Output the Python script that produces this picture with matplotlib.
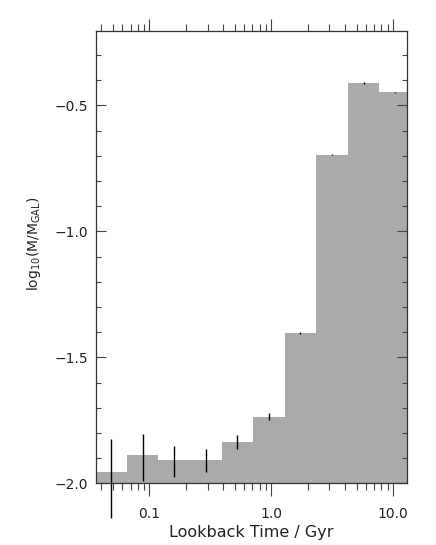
import numpy as np
import matplotlib
matplotlib.use("Agg")
import matplotlib.pyplot as plt
from matplotlib.ticker import FixedLocator, FuncFormatter, LogLocator, NullFormatter, MultipleLocator

# Lookback-time bin edges (Gyr)
bin_edges = [0.0359, 0.0652, 0.1183, 0.2148, 0.390, 0.708, 1.285, 2.333, 4.236, 7.691, 13.96]
# log10(M/M_GAL) per bin
log_mass = [-1.955, -1.886, -1.909, -1.907, -1.835, -1.735, -1.404, -0.695, -0.410, -0.448]
err_low = [0.182, 0.103, 0.066, 0.048, 0.028, 0.013, 0.005, 0.003, 0.003, 0.003]
err_high = [0.129, 0.082, 0.057, 0.044, 0.027, 0.013, 0.005, 0.003, 0.003, 0.003]

x_ticks = [0.1, 1.0, 10.0]
x_tick_labels = ["0.1", "1.0", "10.0"]
y_ticks = [-2.0, -1.5, -1.0, -0.5]

plt.rcParams['font.family'] = ['DejaVu Sans']
fig = plt.figure(figsize=(4.36, 5.45), dpi=100)
ax = fig.add_axes([0.2195, 0.1132, 0.7133, 0.8305])

edges = np.array(bin_edges)
vals = np.array(log_mass)
base = -2.5
lefts = edges[:-1]
widths = np.diff(edges)
ax.bar(lefts, vals - base, width=widths, bottom=base, align='edge',
       color='#aaaaaa', edgecolor='none', linewidth=0)

centres = np.sqrt(edges[:-1] * edges[1:])
eb = ax.errorbar(centres, vals, yerr=[err_low, err_high], fmt='none',
                 ecolor='black', elinewidth=1.0, capsize=0)
for c in eb[2]:
    c.set_clip_on(False)

ax.set_xscale('log')
ax.set_xlim(0.0362, 12.9)
ax.set_ylim(-2.0, -0.203)

ax.xaxis.set_major_locator(FixedLocator(x_ticks))
ax.xaxis.set_major_formatter(FuncFormatter(lambda v, p: x_tick_labels[x_ticks.index(v)] if v in x_ticks else ""))
ax.xaxis.set_minor_locator(LogLocator(base=10, subs=np.arange(2, 10)))
ax.xaxis.set_minor_formatter(NullFormatter())
ax.tick_params(axis='x', which='both', direction='out', top=True, bottom=True,
               labelsize=10, pad=8, width=0.8, color='#444444', labelcolor='#222222')
ax.tick_params(axis='x', which='major', length=9)
ax.tick_params(axis='x', which='minor', length=5)

ax.yaxis.set_major_locator(FixedLocator(y_ticks))
ax.yaxis.set_major_formatter(FuncFormatter(lambda v, p: f"{v:.1f}".replace('-', '\u2212')))
ax.yaxis.set_minor_locator(MultipleLocator(0.1))
ax.tick_params(axis='y', which='both', direction='in', left=True, right=True,
               labelsize=10, pad=5.5, width=0.8, color='#444444', labelcolor='#222222')
ax.tick_params(axis='y', which='major', length=7)
ax.tick_params(axis='y', which='minor', length=3.5)

for s in ax.spines.values():
    s.set_linewidth(0.9)
    s.set_color('#333333')

ax.set_xlabel("Lookback Time / Gyr", fontsize=11.5, color='#222222')
ax.xaxis.set_label_coords(0.5, -0.093)
ax.set_ylabel(r"log$_{10}$(M/M$_{\rm GAL}$)", fontsize=10, color='#222222')
ax.yaxis.set_label_coords(-0.17, 0.53)

fig.savefig("out.png", dpi=100)
